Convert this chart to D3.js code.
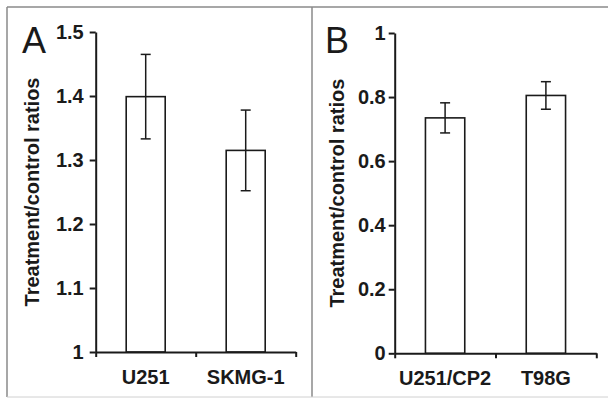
<!DOCTYPE html>
<html>
<head>
<meta charset="utf-8">
<script src="https://cdn.jsdelivr.net/npm/d3@7"></script>
<style>
  body { margin: 0; background: #fff; }
  svg { display: block; }
  text { font-family: "Liberation Sans", Arial, sans-serif; fill: #1a1a1a; }
</style>
</head>
<body>
<svg id="chart" width="608" height="399"></svg>
<script>
// data
var catsA = ["U251", "SKMG-1"];
var meansA = [1.399, 1.315];
var errsA = [0.066, 0.063];
var ticksA = [1, 1.1, 1.2, 1.3, 1.4, 1.5];

var catsB = ["U251/CP2", "T98G"];
var meansB = [0.735, 0.805];
var errsB = [0.047, 0.043];
var ticksB = [0, 0.2, 0.4, 0.6, 0.8, 1];

var svg = d3.select("#chart");
var ink = "#1a1a1a";

// outer frame + divider
svg.append("line").attr("x1", 7).attr("y1", 7).attr("x2", 608).attr("y2", 7)
  .attr("stroke", "#8a8a8a").attr("stroke-width", 1.5);
svg.append("line").attr("x1", 7).attr("y1", 7).attr("x2", 7).attr("y2", 397)
  .attr("stroke", "#8a8a8a").attr("stroke-width", 1.5);
svg.append("line").attr("x1", 312).attr("y1", 7).attr("x2", 312).attr("y2", 397)
  .attr("stroke", "#8a8a8a").attr("stroke-width", 1.5);
svg.append("line").attr("x1", 7).attr("y1", 397).attr("x2", 608).attr("y2", 397)
  .attr("stroke", "#d0d0d0").attr("stroke-width", 1);

function drawPanel(p) {
  var g = svg.append("g");

  var y = d3.scaleLinear().domain([p.ticks[0], p.ticks[p.ticks.length - 1]])
    .range([p.bottom, p.top]);
  var x = d3.scaleBand().domain(p.cats).range([p.left, p.right])
    .paddingInner(0.61).paddingOuter(0.305);
  var xb = d3.scaleLinear().domain([0, p.cats.length]).range([p.left, p.right]);

  // bars
  g.selectAll("rect.bar").data(p.means).enter().append("rect")
    .attr("x", function(d, i) { return x(p.cats[i]); })
    .attr("y", function(d) { return y(d); })
    .attr("width", x.bandwidth())
    .attr("height", function(d) { return y(p.ticks[0]) - y(d); })
    .attr("fill", "#fff").attr("stroke", ink).attr("stroke-width", 1.6);

  // error bars
  var eb = g.selectAll("g.err").data(p.means).enter().append("g")
    .attr("stroke", ink).attr("stroke-width", 1.5);
  eb.append("line")
    .attr("x1", function(d, i) { return x(p.cats[i]) + x.bandwidth() / 2; })
    .attr("x2", function(d, i) { return x(p.cats[i]) + x.bandwidth() / 2; })
    .attr("y1", function(d, i) { return y(d + p.errs[i]); })
    .attr("y2", function(d, i) { return y(d - p.errs[i]); });
  [1, -1].forEach(function(s) {
    eb.append("line")
      .attr("x1", function(d, i) { return x(p.cats[i]) + x.bandwidth() / 2 - 5; })
      .attr("x2", function(d, i) { return x(p.cats[i]) + x.bandwidth() / 2 + 5; })
      .attr("y1", function(d, i) { return y(d + s * p.errs[i]); })
      .attr("y2", function(d, i) { return y(d + s * p.errs[i]); });
  });

  // y axis
  var ya = g.append("g").attr("transform", "translate(" + p.left + ",0)")
    .call(d3.axisLeft(y).tickValues(p.ticks).tickSize(6).tickSizeOuter(0)
      .tickPadding(p.pad).tickFormat(d3.format("~g")));
  ya.select(".domain").attr("stroke", ink).attr("stroke-width", 2);
  ya.selectAll(".tick line").attr("stroke", ink).attr("stroke-width", 2);
  ya.selectAll(".tick text").attr("font-size", 20).attr("font-weight", "bold")
    .attr("fill", ink).style("font-family", "'Liberation Sans', Arial, sans-serif");

  // x axis with ticks between categories
  var xa = g.append("g").attr("transform", "translate(0," + p.bottom + ")")
    .call(d3.axisBottom(xb).tickValues(d3.range(p.cats.length + 1))
      .tickSize(5).tickSizeOuter(0).tickFormat(""));
  xa.select(".domain").attr("stroke", ink).attr("stroke-width", 2);
  xa.selectAll(".tick line").attr("stroke", ink).attr("stroke-width", 2);

  g.selectAll("text.cat").data(p.cats).enter().append("text")
    .attr("x", function(d) { return x(d) + x.bandwidth() / 2; })
    .attr("y", p.bottom + 32)
    .attr("text-anchor", "middle").attr("font-size", 20).attr("font-weight", "bold")
    .text(function(d) { return d; });

  // axis title
  g.append("text")
    .attr("transform", "translate(" + p.titleX + "," + (p.top + p.bottom) / 2 + ") rotate(-90)")
    .attr("text-anchor", "middle").attr("font-size", 20).attr("font-weight", "bold")
    .text("Treatment/control ratios");

  // panel letter
  g.append("text").attr("x", p.letterX).attr("y", 53)
    .attr("font-size", 36).text(p.letter);
}

drawPanel({ cats: catsA, means: meansA, errs: errsA, ticks: ticksA,
  left: 95.7, right: 295.7, top: 32, bottom: 352, pad: 6,
  titleX: 39, letter: "A", letterX: 22 });
drawPanel({ cats: catsB, means: meansB, errs: errsB, ticks: ticksB,
  left: 394.7, right: 596.3, top: 33, bottom: 353.3, pad: 3,
  titleX: 344, letter: "B", letterX: 325 });
</script>
</body>
</html>
